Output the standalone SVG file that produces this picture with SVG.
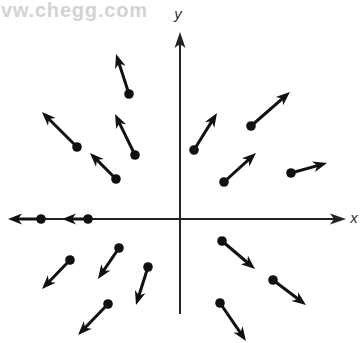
<svg xmlns="http://www.w3.org/2000/svg" width="362" height="343" viewBox="0 0 362 343">
<style>
.wm{font-family:"Liberation Sans",Arial,sans-serif;font-weight:bold;font-size:20px;fill:#d3d3d3}
.lbl{font-family:"Liberation Sans",Arial,sans-serif;font-style:italic;font-size:15px;fill:#333}
.ax{stroke:#222;stroke-width:2;fill:none}
.v{stroke:#111;stroke-width:3;fill:none;marker-end:url(#ah)}
.d{fill:#111}
</style>
<defs>
<marker id="ah" markerUnits="userSpaceOnUse" viewBox="-8 -6 16 12" refX="0" refY="0" markerWidth="16" markerHeight="12" orient="auto" overflow="visible">
<path d="M7,0 L-7,-5.5 L-3,0 L-7,5.5 Z" fill="#111"/>
</marker>
<marker id="axh" markerUnits="userSpaceOnUse" viewBox="-10 -6 20 12" refX="0" refY="0" markerWidth="20" markerHeight="12" orient="auto" overflow="visible">
<path d="M8,0 L-8,-5.5 L-4,0 L-8,5.5 Z" fill="#222"/>
</marker>
</defs>
<text class="wm" x="1" y="17" textLength="146" lengthAdjust="spacing">vw.chegg.com</text>
<g id="axes">
<line class="ax" x1="41" y1="219" x2="338" y2="219" marker-end="url(#axh)"/>
<line class="ax" x1="180" y1="314" x2="180" y2="40" marker-end="url(#axh)"/>
<text class="lbl" x="178" y="19" text-anchor="middle">y</text>
<text class="lbl" x="354" y="223" text-anchor="middle">x</text>
</g>
<g id="connectors">
<line class="v" x1="129" y1="94" x2="118.2" y2="60.7"/>
<line class="v" x1="77" y1="147" x2="46.9" y2="117"/>
<line class="v" x1="135" y1="155" x2="118.1" y2="120.3"/>
<line class="v" x1="116" y1="179" x2="94.9" y2="157.9"/>
<line class="v" x1="194" y1="150" x2="213.3" y2="118.9"/>
<line class="v" x1="251" y1="126" x2="284.7" y2="96.6"/>
<line class="v" x1="224" y1="182" x2="250.8" y2="157.7"/>
<line class="v" x1="291" y1="173" x2="320.3" y2="164.9"/>
<line class="v" x1="41" y1="219" x2="15" y2="219"/>
<line class="v" x1="88" y1="219" x2="69" y2="219"/>
<line class="v" x1="70" y1="260" x2="46.9" y2="284"/>
<line class="v" x1="119" y1="248" x2="101.9" y2="273.2"/>
<line class="v" x1="148" y1="267" x2="138.1" y2="298.3"/>
<line class="v" x1="108" y1="304" x2="82.9" y2="330"/>
<line class="v" x1="222" y1="241" x2="249.7" y2="264.5"/>
<line class="v" x1="273" y1="280" x2="300.4" y2="300.8"/>
<line class="v" x1="220" y1="303" x2="242" y2="335.2"/>
</g>
<g id="dots">
<circle class="d" cx="129" cy="94" r="4.8"/>
<circle class="d" cx="77" cy="147" r="4.8"/>
<circle class="d" cx="135" cy="155" r="4.8"/>
<circle class="d" cx="116" cy="179" r="4.8"/>
<circle class="d" cx="194" cy="150" r="4.8"/>
<circle class="d" cx="251" cy="126" r="4.8"/>
<circle class="d" cx="224" cy="182" r="4.8"/>
<circle class="d" cx="291" cy="173" r="4.8"/>
<circle class="d" cx="41" cy="219" r="4.8"/>
<circle class="d" cx="88" cy="219" r="4.8"/>
<circle class="d" cx="70" cy="260" r="4.8"/>
<circle class="d" cx="119" cy="248" r="4.8"/>
<circle class="d" cx="148" cy="267" r="4.8"/>
<circle class="d" cx="108" cy="304" r="4.8"/>
<circle class="d" cx="222" cy="241" r="4.8"/>
<circle class="d" cx="273" cy="280" r="4.8"/>
<circle class="d" cx="220" cy="303" r="4.8"/>
</g>
</svg>
